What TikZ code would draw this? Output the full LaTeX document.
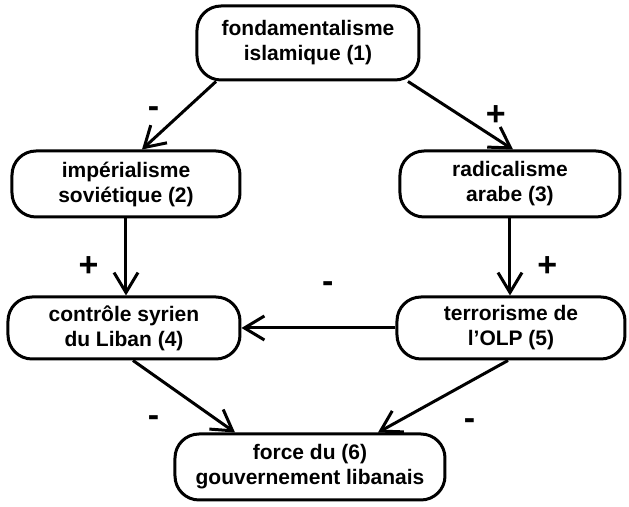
\documentclass[tikz,border=0pt]{standalone}
\usepackage{fontspec}
\setmainfont{Liberation Sans}
\usetikzlibrary{shapes.geometric, arrows.meta}

\begin{document}
\begin{tikzpicture}[x=0.5pt,y=-0.5pt]

\tikzstyle{factor} = [rectangle, rounded corners=12pt, minimum width=112pt, minimum height=33pt, text centered, align=center, draw=black, line width=1.5pt, inner sep=2pt, font=\fontsize{10.5}{12.5}\selectfont\bfseries]
\tikzstyle{arrow} = [line width=1.5pt,-{Straight Barb[length=10pt,width=12pt]}]
\tikzstyle{sign} = [inner sep=1pt, font=\fontsize{17}{17}\selectfont\bfseries]

\useasboundingbox (0,0) rectangle (629,507);

\node (A) [factor, minimum width=111pt, minimum height=37pt] at (308,43) {fondamentalisme\\islamique (1)};
\node (B) [factor, minimum width=114pt] at (126,184) {impérialisme\\soviétique (2)};
\node (C) [factor, minimum width=110pt] at (510,184) {radicalisme\\arabe (3)};
\node (D) [factor, minimum width=116pt, minimum height=31pt] at (124,328) {contrôle syrien\\du Liban (4)};
\node (E) [factor, minimum width=114pt, minimum height=31pt] at (511,328) {terrorisme de\\l'OLP (5)};
\node (F) [factor, minimum width=135pt] at (310,467) {force du (6)\\gouvernement libanais};

\draw [arrow] ([xshift=-46pt]A.south) -- node[sign, pos=0.45, left=10pt] {-} ([xshift=8pt]B.north);
\draw [arrow] ([xshift=50pt]A.south) -- node[sign, pos=0.5, right=11pt] {+} ([xshift=1.5pt]C.north);
\draw [arrow] (B.south) -- node[sign, pos=0.63, left=12pt] {+} (B.south |- D.north);
\draw [arrow] (C.south) -- node[sign, pos=0.63, right=12pt] {+} (C.south |- E.north);
\draw [arrow] (E.west) -- node[sign, pos=0.44, above=16pt] {-} (D.east);
\draw [arrow] ([xshift=4.5pt]D.south) -- node[sign, pos=0.84, left=28pt] {-} ([xshift=-37.5pt]F.north);
\draw [arrow] ([xshift=-1.5pt]E.south) -- node[sign, pos=0.89, right=34pt] {-} ([xshift=34pt]F.north);

\end{tikzpicture}
\end{document}
